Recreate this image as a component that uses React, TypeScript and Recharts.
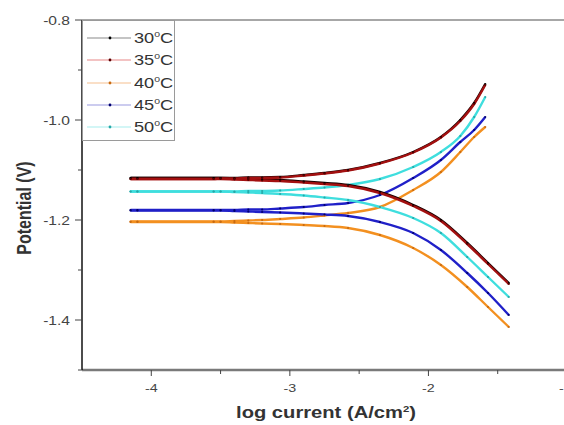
import React from "react";
import { LineChart, Line, XAxis, YAxis, Legend, ReferenceLine } from "recharts";

// log current positions (shared by all temperatures)
const UPPER_X = [-4.15, -4.1, -3.55, -3.5, -3.4, -3.3, -3.2, -3.07, -2.9, -2.75, -2.58, -2.35, -2.11, -1.91, -1.77, -1.67, -1.59];
const LOWER_X = [-4.15, -4.1, -3.55, -3.5, -3.4, -3.3, -3.2, -3.07, -2.9, -2.75, -2.58, -2.35, -2.11, -1.91, -1.72, -1.57, -1.42];

// anodic (upper) branches, potential in V
const T30_UPPER = [-1.116, -1.116, -1.116, -1.116, -1.116, -1.115, -1.115, -1.114, -1.11, -1.106, -1.1, -1.086, -1.064, -1.034, -1.0, -0.966, -0.928];
const T35_UPPER = [-1.118, -1.118, -1.118, -1.117, -1.117, -1.116, -1.116, -1.115, -1.111, -1.107, -1.101, -1.087, -1.065, -1.035, -1.002, -0.968, -0.93];
const T40_UPPER = [-1.203, -1.203, -1.203, -1.203, -1.202, -1.201, -1.2, -1.198, -1.195, -1.191, -1.186, -1.174, -1.14, -1.104, -1.064, -1.034, -1.014];
const T45_UPPER = [-1.18, -1.18, -1.18, -1.18, -1.18, -1.179, -1.179, -1.177, -1.174, -1.17, -1.166, -1.15, -1.116, -1.08, -1.044, -1.02, -0.994];
const T50_UPPER = [-1.143, -1.143, -1.143, -1.143, -1.143, -1.142, -1.142, -1.141, -1.138, -1.135, -1.13, -1.118, -1.094, -1.064, -1.032, -0.994, -0.954];

// cathodic (lower) branches
const T30_LOWER = [-1.116, -1.116, -1.116, -1.116, -1.117, -1.118, -1.119, -1.12, -1.123, -1.126, -1.13, -1.144, -1.17, -1.2, -1.246, -1.286, -1.326];
const T35_LOWER = [-1.118, -1.118, -1.118, -1.118, -1.119, -1.12, -1.121, -1.122, -1.125, -1.128, -1.132, -1.146, -1.172, -1.202, -1.248, -1.288, -1.328];
const T40_LOWER = [-1.204, -1.204, -1.204, -1.204, -1.205, -1.206, -1.207, -1.208, -1.21, -1.212, -1.216, -1.23, -1.256, -1.29, -1.334, -1.374, -1.414];
const T45_LOWER = [-1.181, -1.181, -1.181, -1.181, -1.182, -1.183, -1.184, -1.185, -1.187, -1.189, -1.192, -1.204, -1.226, -1.26, -1.306, -1.346, -1.39];
const T50_LOWER = [-1.143, -1.143, -1.143, -1.143, -1.144, -1.145, -1.146, -1.148, -1.151, -1.155, -1.16, -1.174, -1.196, -1.226, -1.274, -1.314, -1.354];

const TEMPS = ["30", "35", "40", "45", "50"];
const UPPERS = [T30_UPPER, T35_UPPER, T40_UPPER, T45_UPPER, T50_UPPER];
const LOWERS = [T30_LOWER, T35_LOWER, T40_LOWER, T45_LOWER, T50_LOWER];

const X_TICKS = [-4, -3.5, -3, -2.5, -2, -1.5, -1];
const Y_TICKS = [-1.5, -1.4, -1.3, -1.2, -1.1, -1.0, -0.9, -0.8];
const Y_LABELED = [-1.4, -1.2, -1.0, -0.8];

const COLORS = ["#1a0000", "#a31010", "#f39020", "#2020c8", "#3fdede"];
const DOT_COLORS = ["#000000", "#5a0000", "#c86a10", "#000070", "#25a8a8"];
const LEGEND_LINE = ["#8a8a8a", "#e88888", "#f6c090", "#9a9ae0", "#a8eeee"];
// draw order: orange, blue, cyan under the dark red pair
const DRAW_ORDER = [2, 3, 4, 0, 1];

// the source figure is stretched horizontally
const STRETCH = 1.3;

const toPoints = (xs: number[], ys: number[]) => xs.map((x, i) => ({ x, y: ys[i] }));

const XTick = (props: any) => {
  const { x, y, payload } = props;
  const major = Number.isInteger(payload.value);
  return (
    <g>
      <line x1={x} x2={x} y1={y} y2={y + (major ? 6 : 4)} stroke="#444" strokeWidth={1} />
      {major && (
        <text
          transform={`translate(${x},${y + 22}) scale(${STRETCH},1)`}
          textAnchor="middle"
          fontSize={11}
          fill="#444"
        >
          {payload.value}
        </text>
      )}
    </g>
  );
};

const YTick = (props: any) => {
  const { x, y, payload } = props;
  const v = Math.round(payload.value * 10) / 10;
  const major = Y_LABELED.includes(v);
  return (
    <g>
      <line x1={x} x2={x - (major ? 7 : 4)} y1={y} y2={y} stroke="#444" strokeWidth={1} />
      {major && (
        <text
          transform={`translate(${x - 12},${y + 4.5}) scale(${STRETCH},1)`}
          textAnchor="end"
          fontSize={12}
          fill="#444"
        >
          {v.toFixed(1)}
        </text>
      )}
    </g>
  );
};

const LegendBox = () => (
  <div
    style={{
      width: 93,
      height: 121,
      border: "1px solid #9a9a9a",
      background: "#fff",
      boxSizing: "border-box",
      paddingTop: 6,
      fontFamily: "Arial, 'Liberation Sans', sans-serif",
    }}
  >
    {TEMPS.map((t, i) => (
      <div key={t} style={{ display: "flex", alignItems: "center", height: 22.3 }}>
        <svg width={48} height={10} style={{ marginLeft: 2, flexShrink: 0 }}>
          <line x1={2} x2={46} y1={5} y2={5} stroke={LEGEND_LINE[i]} strokeWidth={1.2} />
          <circle cx={25} cy={5} r={1.4} fill={DOT_COLORS[i]} />
        </svg>
        <span
          style={{
            fontSize: 14,
            color: "#333",
            marginLeft: 1,
            display: "inline-block",
            transform: `scaleX(${STRETCH})`,
            transformOrigin: "left center",
            whiteSpace: "nowrap",
          }}
        >
          {t}
          <sup style={{ fontSize: 8 }}>0</sup>C
        </span>
      </div>
    ))}
  </div>
);

export default function App() {
  return (
    <div
      style={{
        position: "absolute",
        left: 0,
        top: 0,
        width: 564,
        height: 425,
        overflow: "hidden",
        background: "#fff",
        fontFamily: "Arial, 'Liberation Sans', sans-serif",
      }}
    >
      <LineChart width={572} height={425} margin={{ top: 20, right: 5, bottom: 54, left: 81 }}>
        <XAxis
          dataKey="x"
          type="number"
          domain={[-4.5, -1]}
          ticks={X_TICKS}
          allowDataOverflow
          height={1}
          tickSize={0}
          tickMargin={0}
          tickLine={false}
          tick={<XTick />}
          axisLine={{ stroke: "#7a7a7a", strokeWidth: 2.5 }}
        />
        <YAxis
          dataKey="y"
          type="number"
          domain={[-1.5, -0.8]}
          ticks={Y_TICKS}
          allowDataOverflow
          width={1}
          tickSize={0}
          tickMargin={0}
          tickLine={false}
          tick={<YTick />}
          axisLine={{ stroke: "#111", strokeWidth: 1.5 }}
        />
        <ReferenceLine y={-0.8} stroke="#8a8a8a" strokeWidth={1.5} />
        {DRAW_ORDER.map((i) => (
          <React.Fragment key={TEMPS[i]}>
            <Line
              data={toPoints(LOWER_X, LOWERS[i])}
              dataKey="y"
              type="monotoneX"
              stroke={COLORS[i]}
              strokeWidth={2.4}
              dot={{ r: 1.1, fill: DOT_COLORS[i], stroke: "none" }}
              legendType="none"
              isAnimationActive={false}
            />
            <Line
              data={toPoints(UPPER_X, UPPERS[i])}
              dataKey="y"
              type="monotoneX"
              stroke={COLORS[i]}
              strokeWidth={2.4}
              dot={{ r: 1.1, fill: DOT_COLORS[i], stroke: "none" }}
              legendType="none"
              isAnimationActive={false}
            />
          </React.Fragment>
        ))}
        <Legend
          layout="vertical"
          align="center"
          verticalAlign="middle"
          content={() => <LegendBox />}
          wrapperStyle={{ position: "absolute", top: 20, left: 82, width: 93, height: 121 }}
        />
      </LineChart>
      <div
        style={{
          position: "absolute",
          left: 24,
          top: 208,
          transform: `translate(-50%, -50%) rotate(-90deg) scaleY(${STRETCH})`,
          fontSize: 16,
          fontWeight: "bold",
          color: "#333",
          whiteSpace: "nowrap",
        }}
      >
        Potential (V)
      </div>
      <div
        style={{
          position: "absolute",
          left: 326,
          top: 413,
          transform: `translate(-50%, -50%) scaleX(1.26)`,
          fontSize: 16,
          fontWeight: "bold",
          color: "#333",
          whiteSpace: "nowrap",
        }}
      >
        log current (A/cm<sup style={{ fontSize: 9 }}>2</sup>)
      </div>
    </div>
  );
}
